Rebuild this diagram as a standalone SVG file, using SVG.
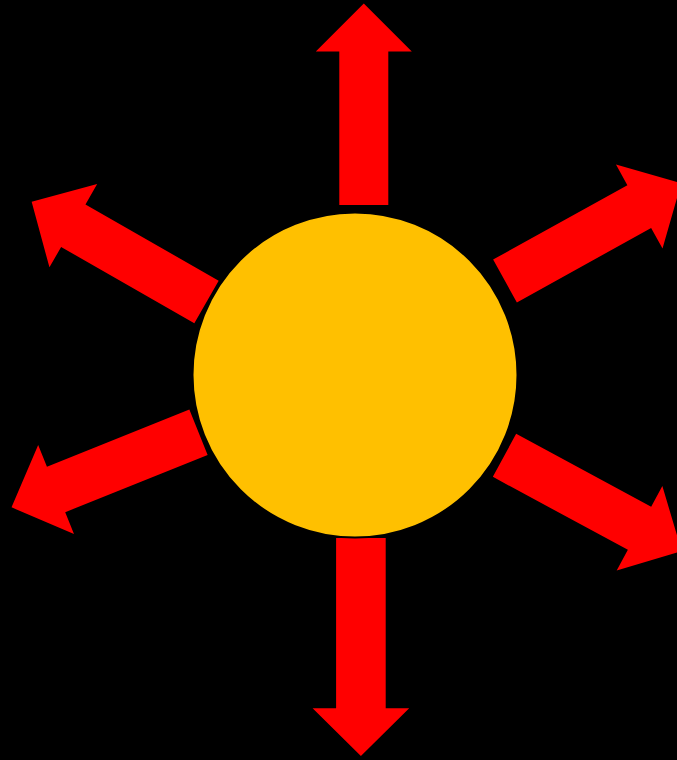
<svg xmlns="http://www.w3.org/2000/svg" xmlns:xlink="http://www.w3.org/1999/xlink" width="677" height="760" viewBox="0 0 677 760">
  <style>
    .arrow { fill: #FF0000; stroke: none; }
    .sun { fill: #FFC000; stroke: #000000; stroke-width: 2; }
  </style>
  <defs>
    <path id="arrowShape" d="M0,-24.5 L153.5,-24.5 L153.5,-48 L201.5,0 L153.5,48 L153.5,24.5 L0,24.5 Z"/>
    <path id="arrowLong" d="M0,-24.8 L170.3,-24.8 L170.3,-48.3 L218,0 L170.3,48.3 L170.3,24.8 L0,24.8 Z"/>
  </defs>
  <rect x="0" y="0" width="677" height="760" fill="#000000"/>
  <g id="arrows">
    <use xlink:href="#arrowShape" href="#arrowShape" class="arrow" transform="translate(363.8,205) rotate(-90)"/>
    <use xlink:href="#arrowShape" href="#arrowShape" class="arrow" transform="translate(505,281) rotate(-29)"/>
    <use xlink:href="#arrowShape" href="#arrowShape" class="arrow" transform="translate(206.5,302) rotate(-150.2)"/>
    <use xlink:href="#arrowShape" href="#arrowShape" class="arrow" transform="translate(198.5,432.2) rotate(158.1)"/>
    <use xlink:href="#arrowShape" href="#arrowShape" class="arrow" transform="translate(504.5,455.3) rotate(28.4)"/>
    <use xlink:href="#arrowLong" href="#arrowLong" class="arrow" transform="translate(360.9,538) rotate(90)"/>
  </g>
  <g id="sun">
    <circle class="sun" cx="355" cy="375" r="162.5"/>
  </g>
</svg>
